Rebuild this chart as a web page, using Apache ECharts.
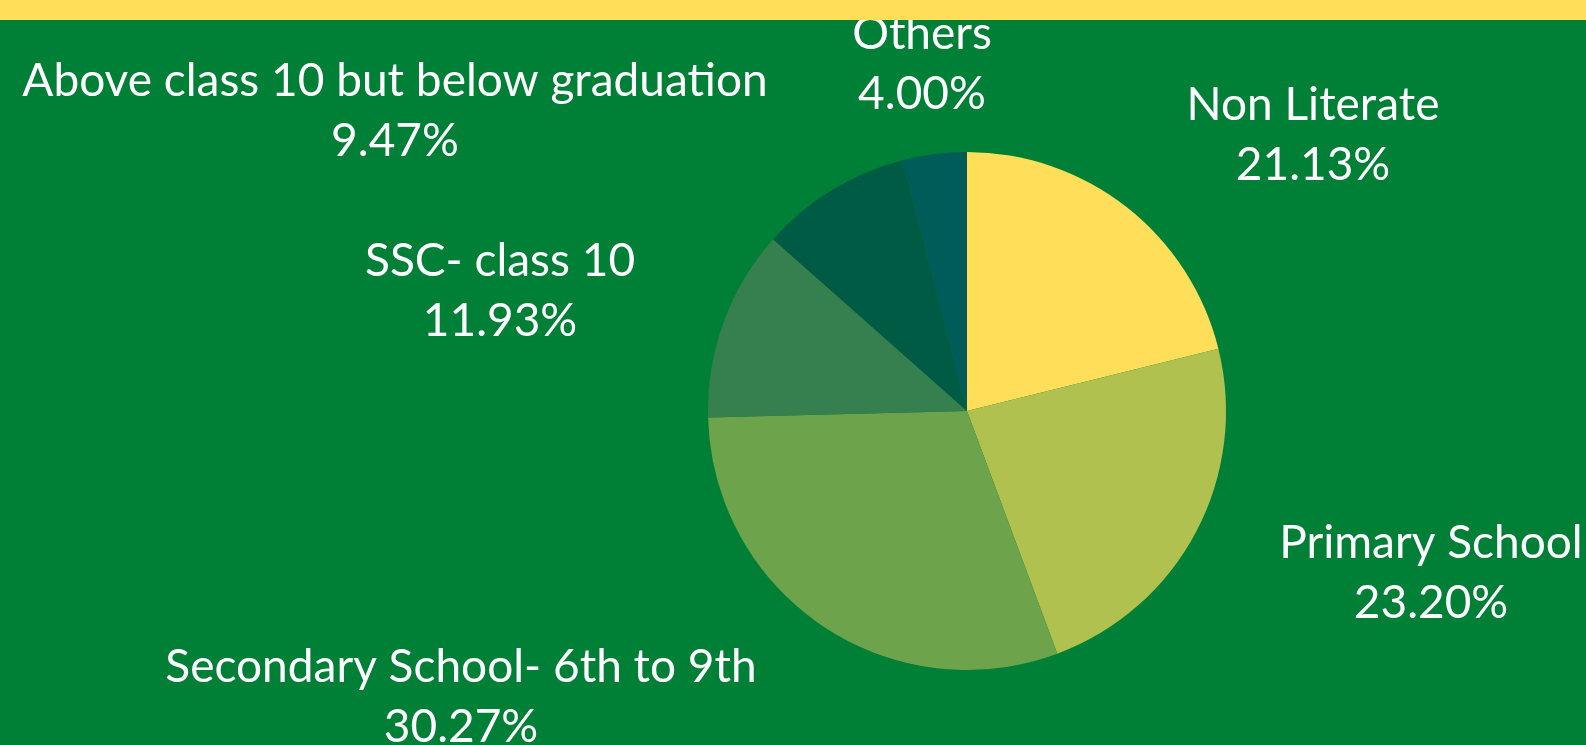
<!DOCTYPE html>
<html>
<head>
<meta charset="utf-8">
<script src="https://cdn.jsdelivr.net/npm/echarts@6/dist/echarts.min.js"></script>
<style>
  html, body { margin: 0; padding: 0; background: #008037; }
  #chart { width: 1586px; height: 745px; }
</style>
</head>
<body>
<div id="chart"></div>
<script>
const categories = ['Non Literate', 'Primary School', 'Secondary School- 6th to 9th', 'SSC- class 10', 'Above class 10 but below graduation', 'Others']
const shares = [21.13, 23.20, 30.27, 11.93, 9.47, 4.00]
const COLORS = ['#ffde59', '#b0c150', '#6ca34b', '#367f4e', '#005b45', '#005c58']
// where each label sits (centre of the two-line block)
const LABEL_POS = [[1313, 135], [1431, 573], [461, 697], [500, 291], [395, 111], [922, 64]]

const chart = echarts.init(document.getElementById('chart'))

chart.setOption({
  backgroundColor: '#008037',
  animation: false,
  graphic: [
    { type: 'rect', left: 0, top: 0, z: 100, shape: { width: 1586, height: 20 }, style: { fill: '#ffde59' } }
  ],
  series: [{
    type: 'pie',
    center: [967, 411],
    radius: 259,
    startAngle: 90,
    clockwise: true,
    avoidLabelOverlap: false,
    itemStyle: { borderWidth: 0 },
    label: {
      show: true,
      position: 'outside',
      color: '#ffffff',
      fontFamily: 'Lato, "Open Sans", sans-serif',
      fontSize: 46,
      lineHeight: 60,
      align: 'center',
      formatter: p => p.name + '\n' + p.value.toFixed(2) + '%'
    },
    labelLine: { show: false },
    labelLayout: p => ({
      x: LABEL_POS[p.dataIndex][0],
      y: LABEL_POS[p.dataIndex][1],
      align: 'center',
      verticalAlign: 'middle'
    }),
    emphasis: { disabled: true },
    data: categories.map((c, i) => ({ name: c, value: shares[i], itemStyle: { color: COLORS[i] } }))
  }]
})
</script>
</body>
</html>
